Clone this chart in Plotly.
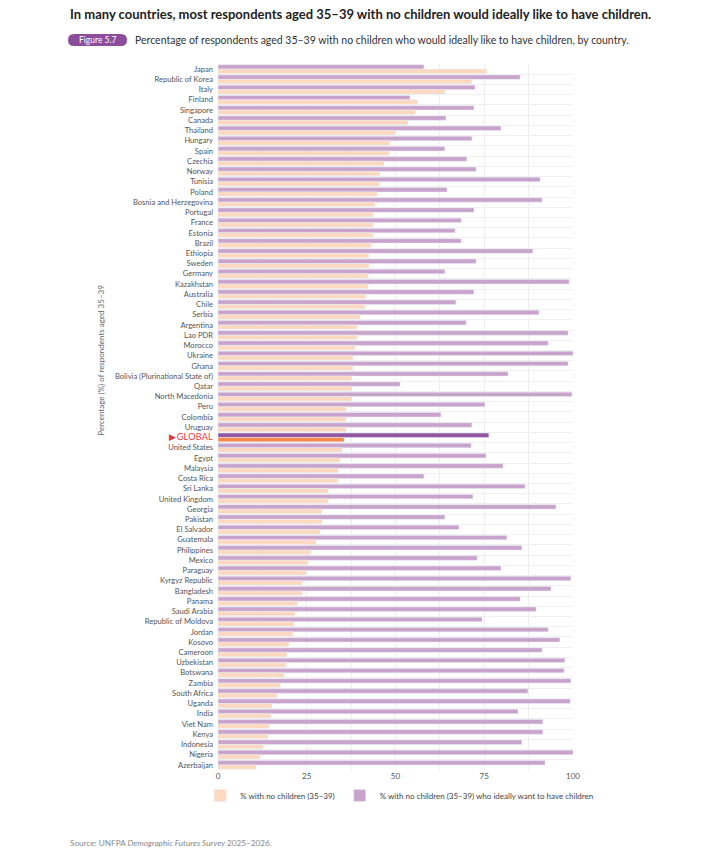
import plotly.graph_objects as go

countries = [
    "Japan", "Republic of Korea", "Italy", "Finland", "Singapore", "Canada",
    "Thailand", "Hungary", "Spain", "Czechia", "Norway", "Tunisia",
    "Poland", "Bosnia and Herzegovina", "Portugal", "France", "Estonia", "Brazil",
    "Ethiopia", "Sweden", "Germany", "Kazakhstan", "Australia", "Chile",
    "Serbia", "Argentina", "Lao PDR", "Morocco", "Ukraine", "Ghana",
    "Bolivia (Plurinational State of)", "Qatar", "North Macedonia", "Peru",
    "Colombia", "Uruguay", "GLOBAL", "United States", "Egypt", "Malaysia",
    "Costa Rica", "Sri Lanka", "United Kingdom", "Georgia", "Pakistan",
    "El Salvador", "Guatemala", "Philippines", "Mexico", "Paraguay",
    "Kyrgyz Republic", "Bangladesh", "Panama", "Saudi Arabia",
    "Republic of Moldova", "Jordan", "Kosovo", "Cameroon", "Uzbekistan",
    "Botswana", "Zambia", "South Africa", "Uganda", "India", "Viet Nam",
    "Kenya", "Indonesia", "Nigeria", "Azerbaijan",
]

# % of respondents aged 35-39 with no children
no_children = [
    75.7, 71.5, 63.9, 56.2, 55.5, 53.5,
    49.9, 48.5, 48.2, 46.8, 45.6, 45.4,
    44.8, 44.2, 43.7, 43.7, 43.7, 43.1,
    42.5, 42.5, 42.3, 42.3, 41.7, 41.4,
    40.0, 39.2, 39.2, 38.6, 38.0, 38.0,
    37.5, 37.5, 37.5, 36.1,
    36.1, 36.1, 35.5, 34.9, 34.4, 33.8,
    33.8, 31.0, 31.0, 29.3, 29.3,
    28.7, 27.6, 26.2, 25.4, 24.8,
    23.7, 23.7, 22.3, 21.7,
    21.4, 21.1, 20.0, 19.4, 19.2,
    18.6, 17.5, 16.6, 15.2, 14.9, 14.4,
    14.1, 12.7, 11.8, 10.7,
]

# % of those who would ideally want to have children
want_children = [
    58.0, 85.1, 72.4, 54.1, 72.1, 64.2,
    79.7, 71.5, 63.9, 70.1, 72.7, 90.7,
    64.5, 91.3, 72.1, 68.5, 66.8, 68.5,
    88.7, 72.7, 63.9, 98.9, 72.1, 67.0,
    90.4, 69.9, 98.6, 93.0, 100.0, 98.6,
    81.7, 51.3, 99.7, 75.2,
    62.8, 71.5, 76.3, 71.3, 75.5, 80.3,
    58.0, 86.5, 71.8, 95.2, 63.9,
    67.9, 81.4, 85.6, 73.0, 79.7,
    99.4, 93.8, 85.1, 89.6,
    74.4, 93.0, 96.3, 91.3, 97.7,
    97.5, 99.4, 87.3, 99.2, 84.5, 91.5,
    91.5, 85.6, 100.0, 92.1,
]

PURPLE, PEACH = "#c9a3cb", "#fed9c0"
PURPLE_HI, PEACH_HI = "#9356a3", "#f5894b"
BADGE = "#8c4d9c"
FONT = "Lato"

labels = ["<span style='color:#ee3440;font-size:9px;letter-spacing:0.3px'>▶GLOBAL</span>"
          if c == "GLOBAL" else c for c in countries]

fig = go.Figure()
fig.add_trace(go.Bar(
    y=countries, x=want_children, orientation="h",
    name="% with no children (35–39) who ideally want to have children",
    marker=dict(color=[PURPLE_HI if c == "GLOBAL" else PURPLE for c in countries]),
    hovertemplate="%{y}: %{x:.1f}%<extra></extra>",
))
fig.add_trace(go.Bar(
    y=countries, x=no_children, orientation="h",
    name="% with no children (35–39)",
    marker=dict(color=[PEACH_HI if c == "GLOBAL" else PEACH for c in countries]),
    hovertemplate="%{y}: %{x:.1f}%<extra></extra>",
))

fig.update_layout(
    width=713, height=849,
    margin=dict(l=218, r=140, t=64, b=79),
    barmode="group", bargap=0.14, bargroupgap=0,
    plot_bgcolor="white", paper_bgcolor="white",
    font=dict(family=FONT, color="#555555", size=8),
    showlegend=True,
    legend=dict(orientation="h", x=-0.05, y=-0.036, xanchor="left", yanchor="middle",
                traceorder="reversed", font=dict(size=8, color="#444444"),
                itemwidth=30),
    xaxis=dict(range=[0, 100], tickvals=[0, 25, 50, 75, 100],
               showgrid=True, gridcolor="#eeeeee", zeroline=False,
               minor=dict(dtick=12.5, showgrid=True, gridcolor="#eeeeee"),
               tickfont=dict(size=8, color="#555555"), fixedrange=True),
    yaxis=dict(autorange="reversed", tickmode="array", tickvals=countries,
               ticktext=labels, tickson="boundaries", showgrid=True,
               gridcolor="#f0f0f0", ticks="", ticklabelstandoff=4,
               tickfont=dict(size=7.6, color="#555555")),
)

# rounded "Figure 5.7" badge
x0, x1, y0, y1 = -0.4225, -0.2563, 1.0255, 1.0425
rx, ry = 0.0169, 0.0085
fig.add_shape(
    type="path", xref="paper", yref="paper", line=dict(width=0), fillcolor=BADGE,
    path=(f"M {x0+rx},{y0} L {x1-rx},{y0} Q {x1},{y0} {x1},{y0+ry} "
          f"Q {x1},{y1} {x1-rx},{y1} L {x0+rx},{y1} Q {x0},{y1} {x0},{y0+ry} "
          f"Q {x0},{y0} {x0+rx},{y0} Z"),
)
fig.add_annotation(
    text="Figure 5.7", xref="paper", yref="paper", x=(x0 + x1) / 2, y=(y0 + y1) / 2,
    xanchor="center", yanchor="middle", showarrow=False,
    font=dict(size=8.5, color="white", family=FONT),
)
fig.add_annotation(
    text="<b>In many countries, most respondents aged 35–39 with no children would ideally like to have children.</b>",
    xref="paper", yref="paper", x=-0.4225, y=1.0705, xanchor="left", yanchor="middle",
    showarrow=False, font=dict(size=13, color="#222222", family=FONT),
)
fig.add_annotation(
    text="Percentage of respondents aged 35–39 with no children who would ideally like to have children, by country.",
    xref="paper", yref="paper", x=-0.239, y=1.034, xanchor="left", yanchor="middle",
    showarrow=False, font=dict(size=10.5, color="#333333", family=FONT),
)
fig.add_annotation(
    text="Percentage (%) of respondents aged 35–39",
    xref="paper", yref="paper", x=-0.332, y=0.58, textangle=-90,
    xanchor="center", yanchor="middle", showarrow=False,
    font=dict(size=8, color="#666666", family=FONT),
)
fig.add_annotation(
    text="Source: UNFPA <i>Demographic Futures Survey</i> 2025–2026.",
    xref="paper", yref="paper", x=-0.4225, y=-0.103, xanchor="left", yanchor="middle",
    showarrow=False, font=dict(size=8.2, color="#888888", family=FONT),
)

# drop the page's default 8px body margin so the figure fills the window exactly
fig.write_html("out.html", config={"displayModeBar": False},
               post_script="document.body.style.margin = '0';")
